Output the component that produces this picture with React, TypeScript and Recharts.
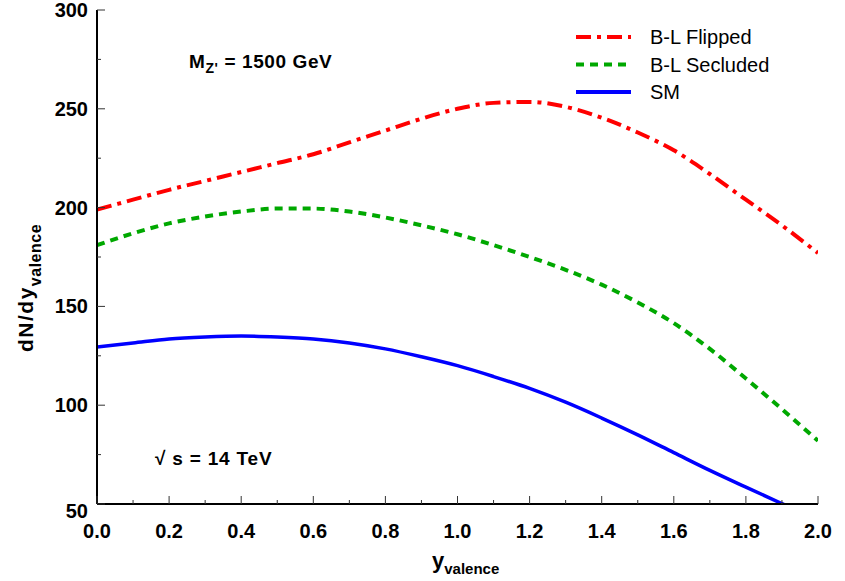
import { LineChart, Line, XAxis, YAxis, Legend, Customized } from 'recharts'

// rapidity grid
const yValence = [0, 0.1, 0.2, 0.3, 0.4, 0.5, 0.6, 0.7, 0.8, 0.9, 1.0, 1.1, 1.2, 1.3, 1.4, 1.5, 1.6, 1.7, 1.8, 1.9, 2.0]
const blFlipped = [199, 204, 209, 213.5, 218, 222.5, 227, 233, 239, 245, 250, 253, 253.5, 251, 245.5, 238, 229, 217, 204, 191, 177]
const blSecluded = [181, 187, 192, 195.5, 198, 199.5, 199.5, 198, 195, 191, 186.5, 181, 175, 168.5, 161, 152, 141.5, 128.5, 113.5, 98, 82]
const smValues = [129.5, 131.5, 133.5, 134.5, 135, 134.5, 133.5, 131.5, 128.5, 124.5, 120, 114.5, 108.5, 101.5, 93.5, 85, 76, 67, 58.5, 50.2, 42]

const xTicks = [0, 0.1, 0.2, 0.3, 0.4, 0.5, 0.6, 0.7, 0.8, 0.9, 1.0, 1.1, 1.2, 1.3, 1.4, 1.5, 1.6, 1.7, 1.8, 1.9, 2.0]
const yTicks = [50, 75, 100, 125, 150, 175, 200, 225, 250, 275, 300]

const data = yValence.map((y, i) => ({
  y,
  flipped: blFlipped[i],
  secluded: blSecluded[i],
  sm: smValues[i],
}))

const FONT = "'Liberation Sans', Arial, Helvetica, sans-serif"
const RED = '#ff0000'
const GREEN = '#00a800'
const BLUE = '#0000ff'
const TICK = '#333'

const legendItems = [
  { name: 'B-L Flipped', color: RED, dash: '15 6 4 6' },
  { name: 'B-L Secluded', color: GREEN, dash: '8 6' },
  { name: 'SM', color: BLUE, dash: undefined },
]

const isMajorX = (v: number) => Math.round(v * 10) % 2 === 0
const isMajorY = (v: number) => v % 50 === 0

function BottomTick({ x, y, payload }: any) {
  const major = isMajorX(payload.value)
  return (
    <g>
      <line x1={x} x2={x} y1={y} y2={y - (major ? 8 : 4)} stroke={TICK} strokeWidth={1} />
      {major && (
        <text x={x} y={y + 34} textAnchor="middle" fontFamily={FONT} fontWeight="bold" fontSize={20} fill="#000">
          {payload.value.toFixed(1)}
        </text>
      )}
    </g>
  )
}

function TopTick({ x, y, payload }: any) {
  const major = isMajorX(payload.value)
  return <line x1={x} x2={x} y1={y} y2={y + (major ? 8 : 4)} stroke={TICK} strokeWidth={1} />
}

function LeftTick({ x, y, payload }: any) {
  const major = isMajorY(payload.value)
  return (
    <g>
      <line x1={x} x2={x + (major ? 8 : 4)} y1={y} y2={y} stroke={TICK} strokeWidth={1} />
      {major && (
        <text x={x - 9} y={y + (payload.value === 50 ? 14 : 7)} textAnchor="end" fontFamily={FONT} fontWeight="bold" fontSize={20} fill="#000">
          {payload.value}
        </text>
      )}
    </g>
  )
}

function RightTick({ x, y, payload }: any) {
  const major = isMajorY(payload.value)
  return <line x1={x} x2={x - (major ? 8 : 4)} y1={y} y2={y} stroke={TICK} strokeWidth={1} />
}

function LegendBox() {
  return (
    <svg width={240} height={84}>
      {legendItems.map((it, i) => {
        const cy = 13 + i * 27.5
        return (
          <g key={it.name}>
            <line x1={6} x2={61} y1={cy} y2={cy} stroke={it.color} strokeWidth={4} strokeDasharray={it.dash} />
            <text x={80} y={cy + 7} fontFamily={FONT} fontSize={20} fill="#000">
              {it.name}
            </text>
          </g>
        )
      })}
    </svg>
  )
}

function Annotations() {
  return (
    <g fontFamily={FONT} fontWeight="bold" fill="#000">
      <text x={189} y={68} fontSize={19} letterSpacing={0.6}>
        M<tspan fontSize={14} dy={5}>Z'</tspan>
        <tspan dy={-5}> = 1500 GeV</tspan>
      </text>
      <text x={155} y={465} fontSize={19} letterSpacing={0.8}>
        √ s = 14 TeV
      </text>
      <text x={432} y={568} fontSize={22}>
        y<tspan fontSize={15} dy={6}>valence</tspan>
      </text>
      <text x={33} y={352} fontSize={21} letterSpacing={1.5} transform="rotate(-90 33 352)">
        dN/dy<tspan fontSize={16} dy={8} letterSpacing={0.5}>valence</tspan>
      </text>
    </g>
  )
}

export default function App() {
  return (
    <div style={{ position: 'absolute', left: 0, top: 0, width: 845, height: 581, background: '#fff' }}>
      <LineChart width={845} height={581} data={data} margin={{ top: 10, right: 27, left: 0, bottom: 0 }}>
        <XAxis
          dataKey="y"
          type="number"
          domain={[0, 2]}
          ticks={xTicks}
          interval={0}
          height={77}
          tickSize={0}
          tickMargin={0}
          tickLine={false}
          tick={<BottomTick />}
          axisLine={{ stroke: '#000', strokeWidth: 2 }}
          allowDataOverflow
        />
        <XAxis
          xAxisId="top"
          orientation="top"
          type="number"
          domain={[0, 2]}
          ticks={xTicks}
          interval={0}
          height={0}
          tickSize={0}
          tickMargin={0}
          tickLine={false}
          tick={<TopTick />}
          axisLine={{ stroke: '#000', strokeWidth: 2 }}
          allowDataOverflow
        />
        <YAxis
          type="number"
          domain={[50, 300]}
          ticks={yTicks}
          interval={0}
          width={97}
          tickSize={0}
          tickMargin={0}
          tickLine={false}
          tick={<LeftTick />}
          axisLine={{ stroke: '#000', strokeWidth: 2 }}
          allowDataOverflow
        />
        <YAxis
          yAxisId="right"
          orientation="right"
          type="number"
          domain={[50, 300]}
          ticks={yTicks}
          interval={0}
          width={0}
          tickSize={0}
          tickMargin={0}
          tickLine={false}
          tick={<RightTick />}
          axisLine={{ stroke: '#000', strokeWidth: 2 }}
          allowDataOverflow
        />
        <Line dataKey="flipped" type="monotone" stroke={RED} strokeWidth={4} strokeDasharray="15 6 4 6" dot={false} isAnimationActive={false} />
        <Line dataKey="secluded" type="monotone" stroke={GREEN} strokeWidth={4} strokeDasharray="8 6" dot={false} isAnimationActive={false} />
        <Line dataKey="sm" type="monotone" stroke={BLUE} strokeWidth={3.5} dot={false} isAnimationActive={false} />
        <Legend
          layout="vertical"
          align="center"
          verticalAlign="middle"
          content={<LegendBox />}
          wrapperStyle={{ position: 'absolute', left: 570, top: 24, width: 240 }}
        />
        <Customized component={<Annotations />} />
      </LineChart>
    </div>
  )
}
